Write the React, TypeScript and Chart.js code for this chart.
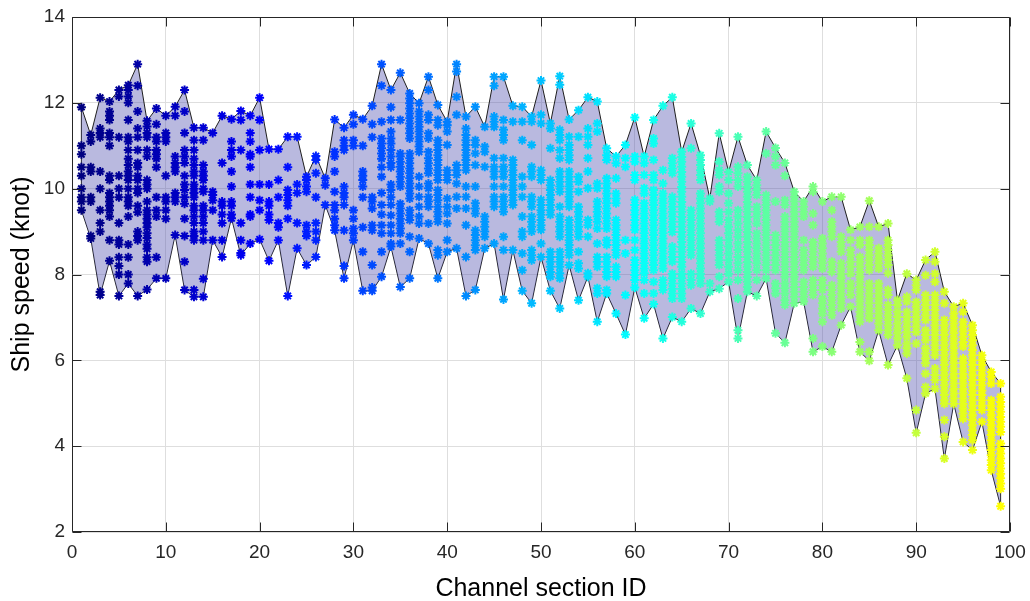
import { useEffect, useRef } from 'react';
import { Chart, registerables } from 'chart.js';

Chart.register(...registerables);

// Ship speeds (knot) observed in each channel section, sections 1..99
const speeds01to20: number[][] = [
  [11.9, 11.0, 10.8, 10.5, 10.3, 10.0, 9.8, 9.7, 9.5],
  [11.25, 11.1, 10.5, 10.4, 9.8, 9.7, 8.9, 8.84],
  [12.12, 11.4, 11.3, 11.2, 10.4, 10.0, 9.5, 9.2, 9.0, 7.6, 7.52],
  [12.03, 11.8, 11.7, 11.6, 11.3, 11.2, 11.0, 10.3, 10.2, 9.9, 9.8, 9.7, 9.6, 9.5, 9.35, 8.8, 8.32],
  [12.3, 12.15, 11.2, 10.3, 10.0, 9.8, 9.2, 8.8, 8.7, 8.4, 8.2, 8.0, 7.5],
  [12.41, 12.3, 12.15, 12.0, 11.6, 11.2, 11.1, 10.9, 10.7, 10.55, 10.4, 10.3, 10.2, 10.0, 9.8, 9.7, 9.6, 9.35, 8.7, 8.4, 8.0, 7.79],
  [12.9, 12.4, 11.8, 11.4, 11.2, 10.9, 10.6, 10.5, 10.3, 10.2, 10.0, 9.9, 9.6, 9.45, 9.0, 8.9, 8.8, 7.5],
  [11.58, 11.45, 11.3, 11.2, 10.9, 10.75, 10.2, 10.1, 10.0, 9.7, 9.5, 9.4, 9.3, 9.2, 9.1, 8.96, 8.85, 8.7, 8.6, 8.4, 8.3, 7.65],
  [11.87, 11.5, 11.2, 11.1, 10.9, 10.8, 10.7, 10.5, 9.8, 9.5, 9.35, 8.4, 7.91],
  [11.7, 11.3, 11.2, 11.1, 10.3, 9.8, 9.7, 9.5, 9.3, 7.91],
  [11.91, 11.7, 10.75, 10.6, 10.5, 10.4, 9.9, 9.8, 9.7, 8.92],
  [12.3, 11.8, 11.3, 10.9, 10.75, 10.6, 10.3, 10.1, 9.97, 9.8, 9.65, 9.3, 8.9, 8.3, 7.64],
  [11.42, 11.13, 10.9, 10.7, 10.55, 10.4, 10.3, 10.1, 10.0, 9.9, 9.8, 9.6, 9.5, 9.35, 9.2, 9.0, 8.9, 8.8, 7.64, 7.48],
  [11.42, 11.13, 10.55, 10.4, 10.3, 10.2, 10.0, 9.93, 9.6, 9.5, 9.35, 9.2, 9.0, 8.8, 7.9, 7.48],
  [11.3, 9.93, 9.85, 9.73, 9.5, 8.8],
  [11.7, 10.6, 9.7, 9.6, 9.4, 9.2, 8.8, 8.41],
  [11.62, 11.1, 10.9, 10.75, 10.4, 10.05, 9.7, 9.6, 9.4, 9.31],
  [11.81, 11.6, 10.9, 9.2, 8.8, 8.5, 8.45],
  [11.7, 11.3, 11.1, 10.8, 10.75, 10.5, 10.1, 9.8, 9.4, 9.35, 8.72],
  [12.12, 11.6, 10.9, 10.1, 9.73, 9.5, 8.82],
];

const speeds21to40: number[][] = [
  [10.92, 10.1, 9.7, 9.6, 9.4, 9.27, 8.32],
  [10.92, 10.2, 9.8, 9.2, 9.1, 8.8],
  [11.21, 10.5, 9.97, 9.85, 9.73, 9.6, 9.3, 7.5],
  [11.21, 10.1, 9.9, 9.2, 8.61],
  [10.28, 10.2, 10.05, 9.93, 9.15, 9.0, 8.9, 8.22],
  [10.76, 10.67, 10.36, 9.8, 9.2, 9.0, 8.8, 8.41],
  [10.24, 10.08, 9.62],
  [11.61, 10.86, 10.75, 10.4, 9.93, 9.62, 9.5, 9.3, 9.15, 9.03],
  [11.42, 11.13, 11.0, 10.9, 10.05, 9.9, 9.8, 9.62, 9.03, 8.2, 7.91],
  [11.72, 11.5, 11.13, 11.0, 9.5, 9.3, 9.07, 8.96, 8.8],
  [11.62, 11.0, 10.4, 10.3, 10.2, 10.05, 9.8, 9.1, 8.53, 7.62],
  [11.93, 11.5, 11.2, 9.8, 9.7, 9.54, 9.15, 9.03, 8.22, 7.7, 7.62],
  [12.9, 12.4, 11.56, 11.17, 11.05, 10.94, 10.82, 10.7, 10.5, 10.28, 9.9, 9.62, 9.4, 9.15, 8.96, 8.53, 7.95],
  [12.3, 11.9, 11.6, 11.33, 11.17, 11.05, 10.9, 10.75, 10.6, 10.5, 10.1, 9.97, 9.8, 9.62, 9.38, 9.15, 8.96, 8.72, 8.65],
  [12.7, 11.6, 10.82, 10.75, 10.63, 10.51, 10.4, 10.28, 10.16, 10.05, 9.65, 9.54, 9.42, 9.3, 9.19, 9.07, 8.96, 8.72, 7.71],
  [12.22, 12.1, 11.99, 11.87, 11.75, 11.64, 11.52, 11.4, 11.29, 11.17, 10.82, 10.71, 10.59, 10.47, 10.36, 10.24, 10.12, 10.01, 9.89, 9.77, 9.5, 9.38, 9.27, 8.88, 8.53, 7.91],
  [11.99, 11.8, 11.68, 11.56, 11.44, 11.33, 11.21, 11.1, 10.98, 10.86, 10.28, 10.05, 9.81, 9.58, 9.35, 9.19, 8.84],
  [12.61, 12.3, 11.72, 11.6, 11.29, 11.17, 10.86, 10.71, 10.59, 10.47, 10.36, 10.12, 10.01, 9.81, 9.7, 9.58, 9.19, 8.72],
  [11.95, 11.6, 11.48, 11.13, 11.02, 10.9, 10.78, 10.67, 10.55, 10.43, 10.32, 10.2, 9.97, 9.85, 9.73, 9.58, 9.46, 9.35, 9.23, 8.57, 8.45, 7.91],
  [11.56, 11.48, 11.33, 11.02, 10.43, 10.32, 10.2, 9.77, 9.58, 9.42, 9.19, 8.8, 8.53],
];

const speeds41to60: number[][] = [
  [12.9, 12.73, 12.14, 11.72, 10.55, 10.43, 10.32, 10.12, 9.81, 9.54, 8.61],
  [11.68, 11.4, 11.25, 11.13, 11.02, 10.9, 10.78, 10.67, 10.55, 10.43, 10.05, 9.81, 9.54, 9.15, 8.41, 7.5],
  [11.91, 11.13, 11.02, 10.82, 10.55, 10.05, 9.66, 9.54, 9.42, 9.03, 8.92, 8.8, 8.68, 8.57, 7.64],
  [11.44, 10.98, 10.86, 10.51, 9.35, 9.23, 9.11, 9.0, 8.88, 8.61],
  [12.61, 12.4, 11.68, 11.56, 11.44, 10.71, 10.51, 10.4, 10.28, 10.05, 9.81, 9.7, 9.58, 8.72],
  [12.61, 11.6, 11.37, 11.25, 11.13, 10.71, 10.51, 10.4, 10.28, 10.05, 9.81, 9.7, 9.58, 9.46, 8.88, 8.57, 7.42],
  [11.93, 11.56, 10.67, 10.55, 10.43, 10.32, 10.2, 10.08, 9.97, 9.85, 9.73, 9.62, 8.57],
  [11.91, 11.56, 11.13, 10.28, 10.05, 9.81, 9.35, 9.0, 8.88, 8.49, 8.1, 7.62],
  [11.68, 11.56, 11.02, 10.51, 10.4, 10.28, 9.81, 9.7, 9.58, 9.35, 9.23, 9.11, 9.0, 8.57, 8.45, 8.33, 7.33],
  [12.52, 11.72, 11.52, 10.43, 10.32, 10.2, 9.74, 9.62, 9.5, 9.39, 9.27, 9.15, 9.04, 8.72, 8.41],
  [11.52, 11.4, 10.94, 10.2, 10.08, 9.97, 9.85, 9.74, 9.62, 9.5, 9.39, 8.53, 8.41, 8.3, 8.18, 8.06, 7.95, 7.62],
  [12.62, 12.42, 11.37, 11.25, 11.13, 10.9, 10.71, 10.4, 10.28, 10.16, 10.05, 9.93, 9.58, 9.35, 9.23, 9.11, 9.0, 8.88, 8.53, 8.41, 8.3, 8.18, 8.03, 7.91, 7.21],
  [11.61, 11.21, 11.02, 10.9, 10.78, 10.67, 10.4, 10.28, 10.16, 10.05, 9.93, 9.81, 9.7, 9.58, 9.27, 9.15, 9.04, 8.92, 8.8, 8.69, 8.57, 8.45, 8.22],
  [11.83, 11.21, 10.28, 10.16, 9.93, 9.58, 9.46, 9.35, 9.23, 9.11, 9.0, 8.88, 8.53, 8.26, 8.14, 7.4],
  [12.13, 11.4, 11.21, 11.02, 10.71, 10.4, 10.01, 9.27, 9.15, 8.88, 8.03, 7.95],
  [12.03, 11.52, 11.33, 10.12, 10.01, 9.7, 9.58, 9.46, 9.35, 9.23, 9.07, 8.72, 8.41, 8.3, 8.18, 7.68, 7.56, 6.9],
  [10.94, 10.78, 10.67, 10.24, 10.12, 10.01, 9.89, 9.77, 9.66, 9.54, 9.42, 9.31, 9.19, 9.07, 8.8, 8.69, 8.41, 8.3, 8.18, 8.06, 7.95, 7.64, 7.56],
  [10.75, 10.59, 10.24, 9.89, 9.77, 9.66, 9.27, 9.15, 9.04, 8.92, 8.8, 8.69, 8.57, 8.45, 8.18, 8.06, 7.95, 7.09],
  [11.02, 10.71, 10.51, 8.8, 8.49, 7.52, 6.6],
  [11.66, 10.75, 10.63, 10.32, 10.2, 9.74, 9.62, 9.5, 9.39, 9.27, 9.15, 9.04, 8.8, 8.57, 8.34, 8.22, 8.1, 7.99, 7.87, 7.7],
];

const speeds61to80: number[][] = [
  [10.75, 10.59, 10.32, 10.01, 9.89, 9.66, 9.54, 9.42, 9.31, 9.19, 9.07, 8.96, 8.84, 8.72, 8.61, 8.49, 8.38, 8.26, 8.14, 8.03, 7.87, 7.56, 6.98],
  [11.6, 11.17, 11.05, 10.67, 10.32, 10.2, 9.97, 9.85, 9.73, 9.62, 9.5, 9.38, 9.27, 9.15, 9.03, 8.92, 8.8, 8.68, 8.57, 8.45, 8.33, 8.22, 8.1, 7.83, 7.56, 7.31],
  [11.93, 10.43, 10.12, 9.89, 9.77, 9.66, 9.54, 9.42, 9.31, 9.19, 9.07, 8.96, 8.84, 8.72, 8.61, 8.49, 8.37, 8.26, 8.14, 7.87, 7.75, 7.64, 6.51],
  [12.13, 10.71, 10.59, 10.47, 10.36, 9.81, 9.7, 9.58, 9.46, 9.35, 9.23, 9.11, 8.99, 8.65, 8.53, 8.41, 8.3, 8.02, 7.91, 7.79, 7.67, 7.56, 7.44, 7.01],
  [10.86, 10.74, 10.63, 10.51, 10.39, 10.28, 10.16, 10.04, 9.93, 9.81, 9.69, 9.58, 9.46, 9.34, 9.23, 9.11, 8.99, 8.88, 8.76, 8.64, 8.53, 8.41, 8.29, 8.18, 8.02, 7.91, 7.79, 7.67, 7.56, 7.44, 6.9],
  [11.52, 10.94, 9.5, 9.38, 9.27, 9.15, 9.03, 8.92, 8.8, 8.68, 8.57, 8.45, 8.02, 7.87, 7.75, 7.21],
  [10.78, 10.67, 10.55, 10.43, 10.32, 10.2, 9.89, 9.77, 9.66, 9.54, 9.42, 9.31, 9.19, 9.07, 8.96, 8.84, 8.72, 8.61, 8.49, 8.37, 8.26, 8.14, 8.02, 7.91, 7.79, 7.09],
  [9.77, 9.7, 7.79, 7.6],
  [11.29, 10.63, 10.43, 10.32, 10.05, 9.93, 9.46, 9.35, 9.23, 8.8, 8.68, 8.57, 8.45, 8.33, 8.22, 7.95, 7.67],
  [10.39, 10.2, 9.89, 9.66, 9.46, 9.27, 9.11, 8.96, 8.8, 8.65, 8.49, 8.33, 8.18, 8.02, 7.83],
  [11.21, 10.51, 10.36, 10.2, 10.05, 9.5, 9.35, 9.19, 9.03, 8.88, 8.72, 8.57, 8.41, 8.26, 8.1, 7.87, 7.44, 6.7, 6.51],
  [10.55, 10.28, 10.16, 10.04, 9.93, 9.81, 9.69, 9.58, 9.46, 9.34, 9.23, 9.11, 8.99, 8.88, 8.76, 8.64, 8.53, 8.41, 8.29, 8.18, 8.06, 7.94, 7.83, 7.71, 7.6],
  [10.2, 10.08, 9.97, 9.85, 9.58, 9.46, 9.35, 9.19, 8.96, 8.84, 8.72, 8.61, 8.49, 8.37, 8.26, 8.1, 7.87, 7.5],
  [11.33, 10.82, 9.85, 9.73, 9.62, 9.5, 9.38, 9.27, 9.15, 9.03, 8.92, 8.8, 8.68, 8.57, 8.45, 8.33, 8.22, 8.1, 7.91],
  [10.95, 10.75, 10.55, 9.7, 8.92, 8.8, 8.69, 8.57, 8.45, 8.33, 8.22, 8.1, 7.79, 7.68, 7.56, 6.63],
  [10.6, 10.3, 9.73, 9.62, 9.35, 9.23, 9.11, 9.0, 8.88, 8.76, 8.65, 8.53, 8.41, 8.3, 8.18, 8.06, 7.95, 7.79, 7.68, 7.56, 7.4, 7.29, 6.41],
  [9.93, 9.81, 9.7, 9.58, 9.46, 9.35, 9.23, 9.11, 9.0, 8.88, 8.76, 8.65, 8.53, 8.41, 8.3, 8.18, 8.06, 7.95, 7.83, 7.71, 7.6, 7.48, 7.33],
  [9.7, 9.58, 9.46, 9.35, 8.8, 8.57, 8.45, 8.33, 8.22, 8.1, 7.83, 7.71, 7.6, 7.48, 7.37],
  [10.05, 9.93, 9.42, 9.15, 8.76, 8.65, 8.53, 8.41, 8.3, 8.18, 7.87, 7.75, 7.64, 7.52, 6.51, 6.2],
  [9.7, 8.84, 8.72, 8.61, 8.49, 8.37, 8.26, 8.14, 7.87, 7.75, 7.64, 7.44, 7.33, 7.21, 7.09, 6.9, 6.32],
];

const speeds81to99: number[][] = [
  [9.81, 9.5, 9.23, 9.11, 9.0, 8.88, 8.3, 8.18, 8.06, 7.75, 7.64, 7.52, 7.4, 7.29, 7.17, 7.05, 6.2],
  [9.81, 8.88, 8.76, 8.65, 8.53, 8.26, 8.14, 8.02, 7.91, 7.79, 7.68, 7.56, 7.44, 7.33, 7.21, 6.82],
  [9.04, 8.8, 8.57, 8.45, 8.3, 8.18, 8.02, 7.79, 7.68, 7.52, 7.25],
  [9.11, 8.8, 8.69, 8.41, 8.3, 8.18, 8.06, 7.95, 7.83, 7.71, 7.6, 7.48, 7.37, 7.25, 7.13, 7.02, 6.9, 6.43, 6.2],
  [9.72, 9.11, 8.8, 8.69, 8.57, 8.45, 8.33, 8.22, 8.1, 7.79, 7.68, 7.56, 7.44, 7.33, 7.21, 7.09, 6.98, 6.2, 5.99],
  [9.11, 8.61, 8.49, 8.37, 8.26, 8.14, 7.79, 7.68, 7.56, 7.44, 7.33, 7.21, 7.09, 6.98, 6.86, 6.7],
  [9.19, 8.8, 8.69, 8.57, 8.45, 8.34, 8.22, 8.03, 7.64, 7.52, 7.29, 7.17, 7.05, 6.94, 6.82, 6.7, 6.59, 5.89],
  [7.4, 7.29, 7.13, 7.01, 6.86, 6.74, 6.63, 6.51, 6.35],
  [8.02, 7.48, 7.37, 7.13, 7.01, 6.9, 6.78, 6.66, 6.55, 6.39, 6.28, 6.16, 5.58],
  [7.87, 7.75, 7.64, 7.36, 7.25, 7.13, 7.01, 6.9, 6.78, 6.66, 6.39, 4.84, 4.31],
  [8.34, 7.98, 7.52, 7.4, 7.29, 7.17, 7.05, 6.94, 6.7, 6.59, 6.47, 6.28, 6.16, 6.04, 5.93, 5.69, 5.38, 5.23],
  [8.53, 8.3, 8.02, 7.83, 7.52, 7.4, 7.29, 7.17, 7.05, 6.94, 6.82, 6.7, 6.59, 6.47, 6.35, 6.24, 6.12, 5.81, 5.66, 5.54, 5.34],
  [7.6, 7.33, 6.94, 6.82, 6.7, 6.59, 6.47, 6.35, 6.24, 6.12, 6.0, 5.89, 5.77, 5.65, 5.54, 5.42, 5.3, 5.19, 5.07, 4.99, 4.61, 4.22, 3.71],
  [7.25, 7.09, 6.98, 6.86, 6.74, 6.63, 6.51, 6.39, 6.28, 6.16, 6.04, 5.93, 5.81, 5.69, 5.58, 5.46, 5.34, 5.23, 5.11, 4.99],
  [7.33, 7.13, 6.9, 6.78, 6.67, 6.55, 6.43, 6.32, 6.04, 5.93, 5.81, 5.69, 5.58, 5.46, 5.34, 5.23, 5.11, 4.99, 4.88, 4.76, 4.64, 4.1],
  [6.82, 6.7, 6.59, 6.47, 6.35, 6.24, 6.12, 6.0, 5.89, 5.77, 5.65, 5.54, 5.42, 5.3, 5.19, 5.07, 4.95, 4.84, 4.72, 4.61, 4.49, 4.37, 4.26, 4.14, 3.91],
  [6.12, 6.0, 5.89, 5.77, 5.65, 5.54, 5.42, 5.3, 5.19, 5.07, 4.95, 4.84, 4.57],
  [5.73, 5.62, 5.46, 5.07, 4.95, 4.84, 4.72, 4.61, 4.49, 4.37, 4.26, 4.14, 4.02, 3.91, 3.79, 3.67, 3.56, 3.44],
  [5.46, 5.15, 5.03, 4.92, 4.8, 4.68, 4.57, 4.45, 4.33, 4.06, 3.94, 3.83, 3.71, 3.6, 3.48, 3.36, 3.25, 3.13, 3.01, 2.6],
];

const xTickValues = [0, 10, 20, 30, 40, 50, 60, 70, 80, 90, 100];
const yTickValues = [2, 4, 6, 8, 10, 12, 14];
const xTitle = 'Channel section ID';
const yTitle = 'Ship speed (knot)';

const speedsBySection = [...speeds01to20, ...speeds21to40, ...speeds41to60, ...speeds61to80, ...speeds81to99];
const sectionIds = speedsBySection.map((_, i) => i + 1);
const upperSpeeds = speedsBySection.map((s) => Math.max(...s));
const lowerSpeeds = speedsBySection.map((s) => Math.min(...s));

function jetColor(t: number): string {
  const c = (v: number) => Math.round(255 * Math.min(1, Math.max(0, v)));
  const r = c(1.5 - Math.abs(4 * t - 3));
  const g = c(1.5 - Math.abs(4 * t - 2));
  const b = c(1.5 - Math.abs(4 * t - 1));
  return `rgb(${r},${g},${b})`;
}

const FONT = '"Liberation Sans", Arial, Helvetica, sans-serif';
const AXIS_COLOR = '#262626';

const framePlugin = {
  id: 'matlabFrame',
  afterDraw(chart: any) {
    const { ctx, chartArea: a, scales } = chart;
    const x = scales.x;
    const y = scales.y;
    const L = Math.round(a.left) + 0.5;
    const R = Math.round(a.right) - 0.5;
    const T = Math.round(a.top) + 0.5;
    const B = Math.round(a.bottom) - 0.5;
    const len = 9;
    ctx.save();
    ctx.strokeStyle = AXIS_COLOR;
    ctx.lineWidth = 1;
    ctx.beginPath();
    ctx.rect(L, T, R - L, B - T);
    for (const v of xTickValues) {
      const px = Math.round(x.getPixelForValue(v)) + 0.5;
      ctx.moveTo(px, B);
      ctx.lineTo(px, B - len);
      ctx.moveTo(px, T);
      ctx.lineTo(px, T + len);
    }
    for (const v of yTickValues) {
      const py = Math.round(y.getPixelForValue(v)) + 0.5;
      ctx.moveTo(L, py);
      ctx.lineTo(L + len, py);
      ctx.moveTo(R, py);
      ctx.lineTo(R - len, py);
    }
    ctx.stroke();
    ctx.restore();
  },
};

export default function App() {
  const canvasRef = useRef<HTMLCanvasElement>(null);

  useEffect(() => {
    const canvas = canvasRef.current;
    if (!canvas) return;

    const pointData: { x: number; y: number }[] = [];
    const pointColors: string[] = [];
    speedsBySection.forEach((list, i) => {
      const id = sectionIds[i];
      const col = jetColor(((id - 1) / 98) * 0.625);
      list.forEach((v) => {
        pointData.push({ x: id, y: v });
        pointColors.push(col);
      });
    });

    const n = sectionIds.length;
    const edgeStyle = {
      type: 'line' as const,
      borderColor: '#1e1e1e',
      borderWidth: 1,
      pointRadius: 0,
      fill: false,
      showLine: true,
    };

    const chart = new Chart(canvas, {
      type: 'line',
      data: {
        datasets: [
          {
            type: 'line',
            label: 'speeds',
            data: pointData,
            showLine: false,
            pointStyle: 'star',
            pointRadius: 4.5,
            pointBorderWidth: 2,
            pointBorderColor: pointColors,
            pointBackgroundColor: pointColors,
            order: 0,
          } as any,
          {
            type: 'line',
            label: 'upper',
            data: sectionIds.map((id, i) => ({ x: id, y: upperSpeeds[i] })),
            borderColor: '#1e1e1e',
            borderWidth: 1,
            pointRadius: 0,
            fill: '+1',
            backgroundColor: 'rgba(80,80,175,0.4)',
            order: 1,
          } as any,
          {
            type: 'line',
            label: 'lower',
            data: sectionIds.map((id, i) => ({ x: id, y: lowerSpeeds[i] })),
            borderColor: '#1e1e1e',
            borderWidth: 1,
            pointRadius: 0,
            fill: false,
            order: 2,
          } as any,
          {
            ...edgeStyle,
            label: 'edgeStart',
            data: [
              { x: sectionIds[0], y: lowerSpeeds[0] },
              { x: sectionIds[0], y: upperSpeeds[0] },
            ],
            order: 3,
          } as any,
          {
            ...edgeStyle,
            label: 'edgeEnd',
            data: [
              { x: sectionIds[n - 1], y: lowerSpeeds[n - 1] },
              { x: sectionIds[n - 1], y: upperSpeeds[n - 1] },
            ],
            order: 4,
          } as any,
        ],
      },
      options: {
        responsive: false,
        animation: false,
        devicePixelRatio: 1,
        layout: { padding: { left: 0, top: 17, right: 20, bottom: 0 } },
        plugins: {
          legend: { display: false },
          tooltip: { enabled: false },
        },
        elements: { line: { tension: 0 } },
        scales: {
          x: {
            type: 'linear',
            min: 0,
            max: 100,
            afterFit: (scale: any) => {
              scale.height = 69;
              scale.paddingLeft = 0;
              scale.paddingRight = 0;
            },
            afterBuildTicks: (scale: any) => {
              scale.ticks = xTickValues.map((v) => ({ value: v }));
            },
            ticks: {
              color: AXIS_COLOR,
              font: { family: FONT, size: 19 },
              padding: 9,
              maxRotation: 0,
              autoSkip: false,
            },
            grid: { color: '#dedede', lineWidth: 1, drawTicks: false },
            border: { display: false },
            title: {
              display: true,
              text: xTitle,
              color: '#000',
              font: { family: FONT, size: 25 },
              padding: { top: 0, bottom: -3 },
            },
          },
          y: {
            type: 'linear',
            min: 2,
            max: 14,
            afterFit: (scale: any) => {
              scale.width = 72;
              scale.paddingTop = 0;
              scale.paddingBottom = 0;
            },
            afterBuildTicks: (scale: any) => {
              scale.ticks = yTickValues.map((v) => ({ value: v }));
            },
            ticks: {
              color: AXIS_COLOR,
              font: { family: FONT, size: 19 },
              padding: 7,
              autoSkip: false,
            },
            grid: { color: '#dedede', lineWidth: 1, drawTicks: false },
            border: { display: false },
            title: {
              display: true,
              text: yTitle,
              color: '#000',
              font: { family: FONT, size: 25 },
              padding: { top: 7, bottom: 0 },
            },
          },
        },
      },
      plugins: [framePlugin],
    });

    return () => chart.destroy();
  }, []);

  return (
    <div style={{ position: 'fixed', left: 0, top: 0, width: 1030, height: 601, background: '#ffffff' }}>
      <canvas ref={canvasRef} width={1030} height={601} style={{ display: 'block', width: 1030, height: 601 }} />
    </div>
  );
}
